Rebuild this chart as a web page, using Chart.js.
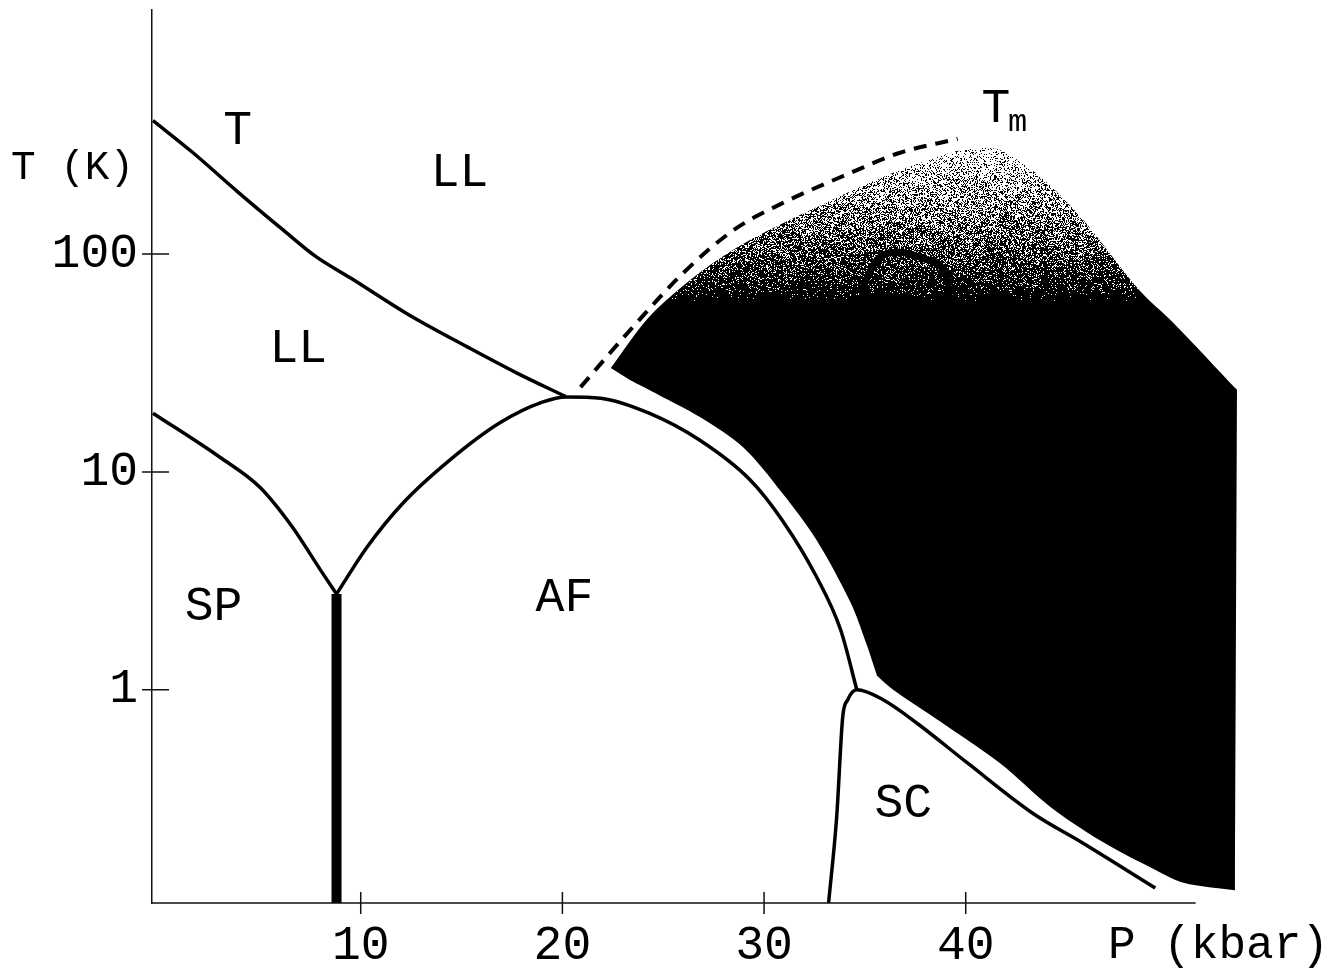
<!DOCTYPE html>
<html>
<head>
<meta charset="utf-8">
<title>P-T phase diagram</title>
<script src="https://cdn.jsdelivr.net/npm/chart.js@4.4.1/dist/chart.umd.min.js"></script>
<style>
  html, body { margin: 0; padding: 0; background: #fff; }
  canvas { display: block; }
</style>
</head>
<body>
<canvas id="phaseChart" width="1343" height="974"></canvas>
<script>
// axis ranges and ticks
const pRange = [-0.35, 53.6];
const pAxisEnd = 51.4;
const tRange = [0.105, 1319];
const pTicks = [10, 20, 30, 40];
const tTicks = [1, 10, 100];

// phase boundaries as [P (kbar), T (K)]
const crossoverLine = [
  [-0.3, 410], [1.7, 291], [3.9, 193], [6.15, 129], [7.8, 97], [9.5, 77.6],
  [12.4, 52.5], [15.3, 37.4], [17.75, 28.4], [20.15, 22.2]
];
const spinPeierlsLine = [
  [-0.3, 18.6], [3.0, 11.7], [5.0, 8.5], [6.6, 5.6], [8.0, 3.55], [8.8, 2.75]
];
const neelLine = [
  [8.8, 2.75], [10.3, 4.5], [12.1, 7.2], [14.4, 11.3], [16.9, 16.8], [19.0, 20.9],
  [20.2, 22.1], [21.9, 21.8], [24.3, 18.6], [26.8, 14.0], [29.3, 9.2],
  [30.9, 6.0], [32.6, 3.3], [33.8, 1.88], [34.6, 1.0]
];
const firstOrderLine = [[8.8, 2.75], [8.8, 0.105]];
const superconductingLine = [
  [33.2, 0.105], [33.6, 0.26], [33.9, 0.75], [34.15, 0.9], [34.6, 1.0],
  [35.9, 0.9], [37.6, 0.70], [40.1, 0.46], [43.3, 0.272], [45.8, 0.198], [49.4, 0.123]
];
const meltingLine = [
  [20.9, 24.5], [23.5, 46.3], [26.0, 82], [28.5, 129], [30.9, 171],
  [34.3, 236], [36.7, 291], [39.6, 338]
];
// outline of the metallic region (corners listed twice to keep them sharp)
const metalRegion = [
  [22.4, 30.0], [22.4, 30.0], [24.3, 51.4], [26.8, 82], [29.3, 116], [32.6, 164],
  [35.9, 226], [39.2, 291], [40.5, 307], [41.7, 300], [43.7, 226], [45.7, 148],
  [48.6, 68.4], [50.3, 48.3], [53.45, 23.8], [53.45, 23.8], [53.35, 0.120],
  [53.35, 0.120], [50.8, 0.130], [49.1, 0.154], [46.65, 0.204], [44.2, 0.29],
  [41.7, 0.46], [38.4, 0.75], [36.4, 1.0], [35.6, 1.16], [35.6, 1.16], [35.1, 1.6],
  [34.3, 2.5], [32.6, 4.87], [30.9, 8.0], [28.95, 13.0], [26.8, 17.9],
  [24.8, 22.5], [23.35, 26.4]
];
const humpLine = [
  [34.75, 66], [35.6, 94], [36.7, 102], [38.1, 94], [39.1, 76], [39.2, 61.5]
];
const regionLabels = [
  { text: 'T', p: 3.9, t: 371 },
  { text: 'LL', p: 14.9, t: 238 },
  { text: 'LL', p: 6.9, t: 37 },
  { text: 'SP', p: 2.7, t: 2.42 },
  { text: 'AF', p: 20.1, t: 2.67 },
  { text: 'SC', p: 36.9, t: 0.302 }
];
const meltLabel = { text: 'T', sub: 'm', p: 41.5, t: 468 };

const FONT = '"Liberation Mono", "Courier New", monospace';

const toPoints = (pairs) => pairs.map(([p, t]) => ({ x: p, y: t }));

const curve = (pairs, extra) => Object.assign({
  data: toPoints(pairs),
  borderColor: '#000',
  borderWidth: 3.5,
  pointRadius: 0,
  cubicInterpolationMode: 'monotone',
  fill: false,
  order: 1
}, extra);

// darkness of the shading vs temperature: light speckle near T_m, solid black lower down
const shadeStops = [
  [300, 0.15], [197, 0.35], [129, 0.6], [94, 0.75], [72, 0.9], [61, 1]
];

function darknessAt(py, stops) {
  if (py <= stops[0][0]) return stops[0][1];
  for (let i = 1; i < stops.length; i++) {
    const [y1, d1] = stops[i];
    const [y0, d0] = stops[i - 1];
    if (py <= y1) return d0 + (d1 - d0) * (py - y0) / (y1 - y0);
  }
  return 1;
}

// dithered grey-to-black texture for the metallic region
let metalPattern = null;
function metalFill(context) {
  const { chart } = context;
  const { chartArea, scales } = chart;
  if (!chartArea) return '#000';
  if (!metalPattern) {
    const w = chart.width, h = chart.height;
    const off = document.createElement('canvas');
    off.width = w;
    off.height = h;
    const octx = off.getContext('2d');
    const img = octx.createImageData(w, h);
    const stops = shadeStops.map(([t, d]) => [scales.y.getPixelForValue(t), d]);
    let seed = 20240607;
    const next = () => {
      seed = (Math.imul(seed, 1664525) + 1013904223) >>> 0;
      return seed / 4294967296;
    };
    for (let py = 0; py < h; py++) {
      const d = darknessAt(py, stops);
      for (let px = 0; px < w; px++) {
        const i = (py * w + px) * 4;
        const v = next() < d ? 0 : 255;
        img.data[i] = img.data[i + 1] = img.data[i + 2] = v;
        img.data[i + 3] = 255;
      }
    }
    octx.putImageData(img, 0, 0);
    metalPattern = chart.ctx.createPattern(off, 'no-repeat');
  }
  return metalPattern;
}

// axis line, crossing tick marks, region names and axis titles
const decor = {
  id: 'decor',
  afterDraw(chart) {
    const { ctx, scales: { x, y } } = chart;
    const y0 = y.getPixelForValue(tRange[0]);
    const x0 = x.getPixelForValue(pRange[0]);
    ctx.save();
    ctx.strokeStyle = '#111';
    ctx.lineWidth = 1.5;
    ctx.beginPath();
    ctx.moveTo(x0, y0);
    ctx.lineTo(x.getPixelForValue(pAxisEnd), y0);
    pTicks.forEach(v => {
      const px = x.getPixelForValue(v);
      ctx.moveTo(px, y0 - 11);
      ctx.lineTo(px, y0 + 11);
    });
    tTicks.forEach(v => {
      const py = y.getPixelForValue(v);
      ctx.moveTo(x0 - 10, py);
      ctx.lineTo(x0 + 17, py);
    });
    ctx.stroke();

    ctx.fillStyle = '#000';
    ctx.textBaseline = 'alphabetic';
    ctx.textAlign = 'center';
    ctx.font = '48px ' + FONT;
    regionLabels.forEach(l => {
      ctx.fillText(l.text, x.getPixelForValue(l.p), y.getPixelForValue(l.t) + 14);
    });
    const mx = x.getPixelForValue(meltLabel.p);
    const my = y.getPixelForValue(meltLabel.t) + 14;
    ctx.fillText(meltLabel.text, mx, my);
    ctx.textAlign = 'left';
    ctx.font = '32px ' + FONT;
    ctx.fillText(meltLabel.sub, mx + 12, my + 9);

    ctx.font = '41px ' + FONT;
    ctx.fillText('T (K)', 11, 179);
    ctx.font = '46px ' + FONT;
    ctx.fillText('P (kbar)', 1108, 958);
    ctx.restore();
  }
};

new Chart(document.getElementById('phaseChart'), {
  type: 'line',
  data: {
    datasets: [
      {
        data: toPoints(metalRegion),
        borderWidth: 0,
        pointRadius: 0,
        tension: 0.3,
        fill: 'shape',
        backgroundColor: metalFill,
        order: 10
      },
      curve(crossoverLine),
      curve(spinPeierlsLine),
      curve(neelLine),
      curve(firstOrderLine, { borderWidth: 10, cubicInterpolationMode: 'default', tension: 0 }),
      curve(superconductingLine),
      curve(meltingLine, { borderWidth: 4, borderDash: [13, 9] }),
      curve(humpLine, { borderWidth: 7 })
    ]
  },
  options: {
    responsive: false,
    animation: false,
    layout: { padding: { top: 10, right: 103, left: 0, bottom: 0 } },
    plugins: {
      legend: { display: false },
      tooltip: { enabled: false }
    },
    scales: {
      x: {
        type: 'linear',
        bounds: 'data',
        min: pRange[0],
        max: pRange[1],
        grid: { display: false, drawTicks: false },
        border: { display: false },
        afterBuildTicks: (scale) => { scale.ticks = pTicks.map(v => ({ value: v })); },
        afterFit: (scale) => {
          scale.height = 71;
          scale.paddingLeft = 0;
          scale.paddingRight = 0;
        },
        ticks: {
          color: '#000',
          padding: 14,
          maxRotation: 0,
          autoSkip: false,
          font: { family: FONT, size: 48 },
          callback: (v) => String(v)
        }
      },
      y: {
        type: 'logarithmic',
        bounds: 'data',
        min: tRange[0],
        max: tRange[1],
        grid: { display: false, drawTicks: false },
        border: { display: true, color: '#111', width: 1.5 },
        afterBuildTicks: (scale) => { scale.ticks = tTicks.map(v => ({ value: v })); },
        afterFit: (scale) => {
          scale.width = 152;
          scale.paddingTop = 0;
          scale.paddingBottom = 0;
        },
        ticks: {
          color: '#000',
          padding: 14,
          autoSkip: false,
          font: { family: FONT, size: 48 },
          callback: (v) => String(v)
        }
      }
    }
  },
  plugins: [decor]
});
</script>
</body>
</html>
